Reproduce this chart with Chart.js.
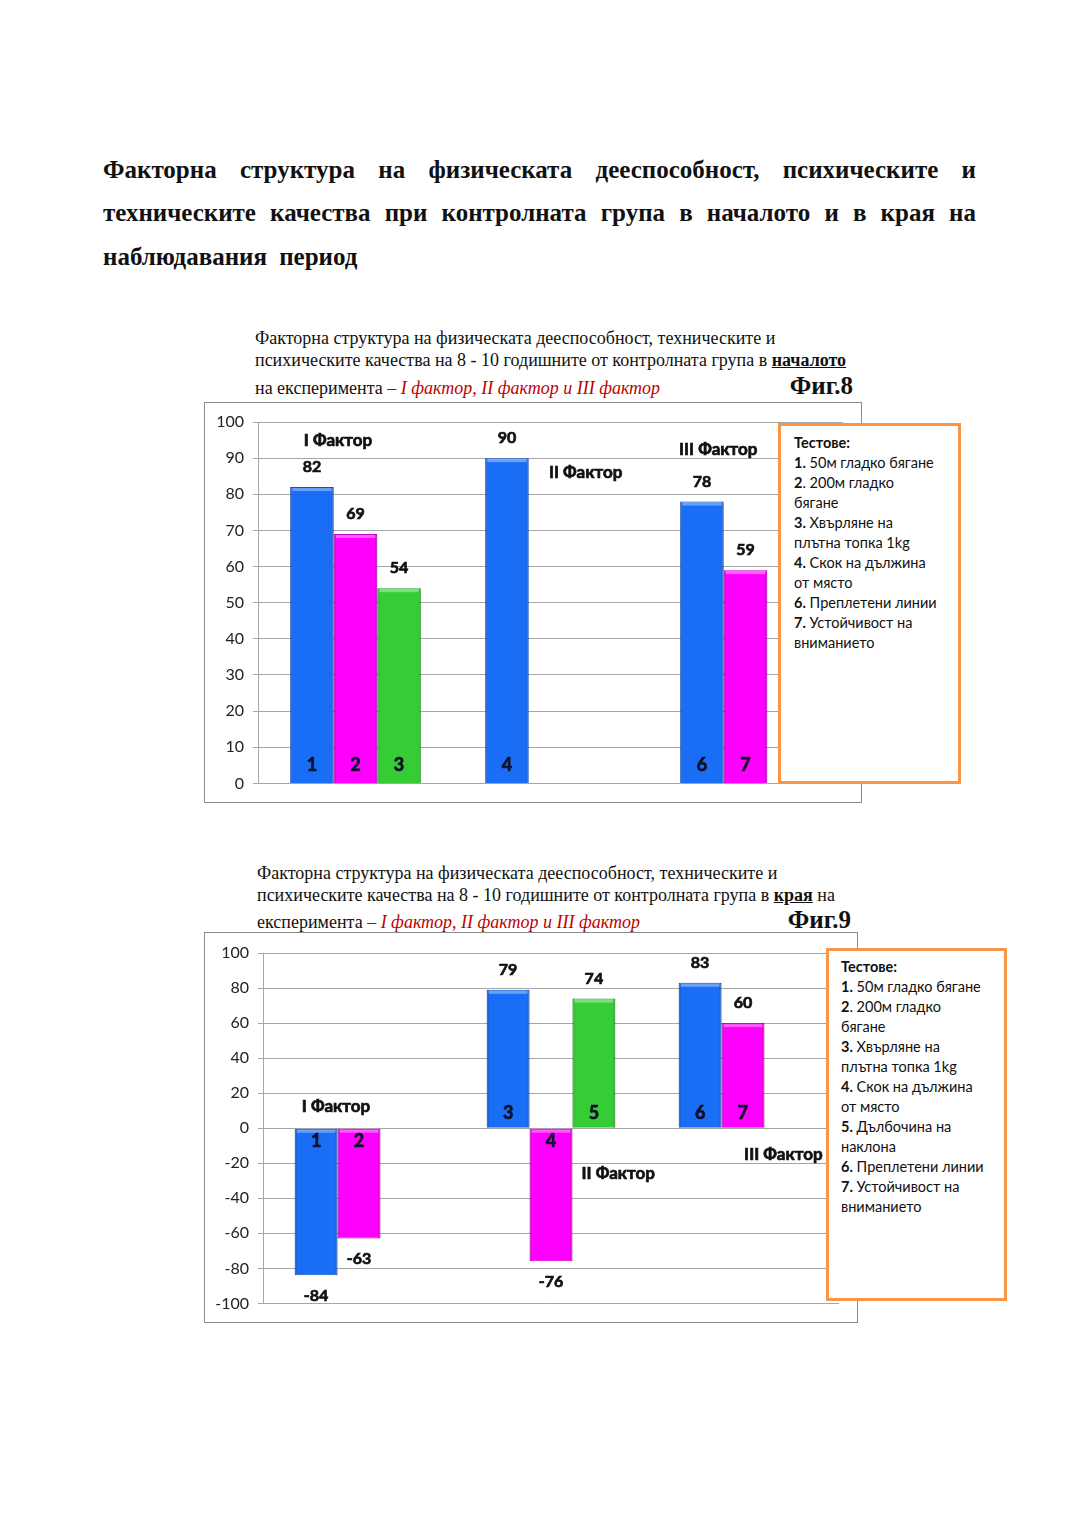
<!DOCTYPE html>
<html>
<head>
<meta charset="utf-8">
<script src="https://cdn.jsdelivr.net/npm/chart.js@4"></script>
<style>
  body { margin: 0; background: #fff; }
  #page { position: relative; width: 1080px; height: 1527px; overflow: hidden; }
  .title { position: absolute; left: 103px; width: 873px; font: bold 25px "Liberation Serif", serif; line-height: 30px; color: #111; white-space: nowrap; }
  .title.just { text-align: justify; text-align-last: justify; white-space: normal; }
  .cap { position: absolute; font: 18px "Liberation Serif", serif; line-height: 22px; color: #111; white-space: nowrap; }
  .cap b { text-decoration: underline; }
  .cap i { color: #c00000; }
  .fig { position: absolute; font: bold 25px "Liberation Serif", serif; line-height: 30px; color: #111; }
  .frame { position: absolute; box-sizing: border-box; border: 1px solid #8a8a8a; background: #fff; }
  .frame canvas { position: absolute; left: 0; top: 0; }
  .legend { position: absolute; box-sizing: border-box; border: 3px solid #f79646; background: #fff;
            font: 14.5px Lato, sans-serif; line-height: 20px; color: #111; white-space: nowrap; }
</style>
</head>
<body>
<div id="page">
  <div class="title just" style="top:155px">Факторна структура на физическата дееспособност, психическите и</div>
  <div class="title just" style="top:198px">техническите качества при контролната група в началото и в края на</div>
  <div class="title" style="top:242px;word-spacing:6px">наблюдавания период</div>

  <div class="cap" style="left:255px;top:327px">Факторна структура на физическата дееспособност, техническите и</div>
  <div class="cap" style="left:255px;top:349px">психическите качества на 8 - 10 годишните от контролната група в <b>началото</b></div>
  <div class="cap" style="left:255px;top:377px">на експеримента <i>– I фактор, II фактор и III фактор</i></div>
  <div class="fig" style="right:227px;top:371px">Фиг.8</div>

  <div class="frame" style="left:204px;top:402px;width:658px;height:401px">
    <canvas id="chart8" width="656" height="399"></canvas>
  </div>
  <div class="legend" style="left:778px;top:423px;width:183px;height:361px;padding:7px 0 0 13px">
    <b>Тестове:</b><br>
    <b>1.</b> 50м гладко бягане<br>
    <b>2</b>. 200м гладко<br>бягане<br>
    <b>3.</b> Хвърляне на<br>плътна топка 1kg<br>
    <b>4.</b> Скок на дължина<br>от място<br>
    <b>6.</b> Преплетени линии<br>
    <b>7.</b> Устойчивост на<br>вниманието
  </div>

  <div class="cap" style="left:257px;top:862px">Факторна структура на физическата дееспособност, техническите и</div>
  <div class="cap" style="left:257px;top:884px">психическите качества на 8 - 10 годишните от контролната група в <b>края</b> на</div>
  <div class="cap" style="left:257px;top:911px">експеримента <i>– I фактор, II фактор и III фактор</i></div>
  <div class="fig" style="right:229px;top:905px">Фиг.9</div>

  <div class="frame" style="left:204px;top:932px;width:654px;height:391px">
    <canvas id="chart9" width="652" height="389"></canvas>
  </div>
  <div class="legend" style="left:826px;top:948px;width:181px;height:353px;padding:6px 0 0 12px">
    <b>Тестове:</b><br>
    <b>1.</b> 50м гладко бягане<br>
    <b>2</b>. 200м гладко<br>бягане<br>
    <b>3.</b> Хвърляне на<br>плътна топка 1kg<br>
    <b>4.</b> Скок на дължина<br>от място<br>
    <b>5.</b> Дълбочина на<br>наклона<br>
    <b>6.</b> Преплетени линии<br>
    <b>7.</b> Устойчивост на<br>вниманието
  </div>
</div>

<script>
const categories = ["I Фактор", "II Фактор", "III Фактор"];

// Фиг.8 - в началото
const fig8Blue = [82, 90, 78];
const fig8Magenta = [69, null, 59];
const fig8Green = [54, null, null];
const fig8BlueTests = ["1", "4", "6"];
const fig8MagentaTests = ["2", null, "7"];
const fig8GreenTests = ["3", null, null];
const fig8Ticks = [0, 10, 20, 30, 40, 50, 60, 70, 80, 90, 100];

// Фиг.9 - в края
const fig9Blue = [-84, 79, 83];
const fig9Magenta = [-63, -76, 60];
const fig9Green = [null, 74, null];
const fig9BlueTests = ["1", "3", "6"];
const fig9MagentaTests = ["2", "4", "7"];
const fig9GreenTests = [null, "5", null];
const fig9Ticks = [-100, -80, -60, -40, -20, 0, 20, 40, 60, 80, 100];

const BLUE = "#1a6ef5";
const MAGENTA = "#ff00ff";
const GREEN = "#36cc36";

// where the factor names sit: dx in category widths from the centre, y in axis units
const fig8FactorPos = [{ dx: -0.09, y: 95 }, { dx: 0.18, y: 86 }, { dx: -0.14, y: 92.5 }];
const fig9FactorPos = [{ dx: -0.12, y: 12.5 }, { dx: 0.35, y: -26 }, { dx: 0.21, y: -15 }];

// bold text drawn with a thin stroke so it reads as heavy as the original
function heavyText(ctx, txt, x, y, color) {
  ctx.fillStyle = color;
  ctx.strokeStyle = color;
  ctx.lineWidth = 0.7;
  ctx.fillText(txt, x, y);
  ctx.strokeText(txt, x, y);
}

const barLabels = {
  id: "barLabels",
  afterDatasetsDraw(chart, args, opts) {
    const ctx = chart.ctx;
    const xs = chart.scales.x;
    const ys = chart.scales.y;
    const y0 = ys.getPixelForValue(0);
    ctx.save();
    ctx.textAlign = "center";
    ctx.textBaseline = "middle";
    chart.data.datasets.forEach((ds, di) => {
      const meta = chart.getDatasetMeta(di);
      meta.data.forEach((bar, i) => {
        const v = ds.data[i];
        if (v === null) return;
        ctx.font = "bold 16px Lato, sans-serif";
        heavyText(ctx, String(v), bar.x, v >= 0 ? bar.y - 20 : bar.y + 20, "#111");
        if (ds.tests[i]) {
          ctx.font = "bold 18px Lato, sans-serif";
          heavyText(ctx, ds.tests[i], bar.x, v >= 0 ? y0 - opts.numUp : y0 + opts.numDown, "#10102a");
        }
      });
    });
    // factor names
    const cw = xs.getPixelForValue(1) - xs.getPixelForValue(0);
    ctx.font = "bold 17px Lato, sans-serif";
    opts.factors.forEach((f, i) => {
      heavyText(ctx, categories[i], xs.getPixelForValue(i) + f.dx * cw, ys.getPixelForValue(f.y), "#111");
    });
    ctx.restore();
  }
};

// light strip on top of each bar like the bevel in the original
const barBevel = {
  id: "barBevel",
  afterDatasetsDraw(chart) {
    const ctx = chart.ctx;
    ctx.save();
    chart.data.datasets.forEach((ds, di) => {
      chart.getDatasetMeta(di).data.forEach((bar, i) => {
        if (ds.data[i] === null) return;
        const w = bar.width;
        const top = Math.min(bar.y, bar.base);
        const bottom = Math.max(bar.y, bar.base);
        const left = bar.x - w / 2;
        ctx.fillStyle = "rgba(255,255,255,0.35)";
        ctx.fillRect(left + 2, top + 1, w - 4, 3);
        ctx.fillStyle = "rgba(0,0,0,0.12)";
        ctx.fillRect(left, top, 2, bottom - top);
        ctx.fillRect(left + w - 2, top, 2, bottom - top);
      });
    });
    ctx.restore();
  }
};

function makeChart(id, sets, ticks, yWidth, padding, labelOpts) {
  const colors = [BLUE, MAGENTA, GREEN];
  const borders = ["#0f55c8", "#c800c8", "#22a022"];
  return new Chart(document.getElementById(id), {
    type: "bar",
    data: {
      labels: categories,
      datasets: sets.map((s, k) => ({
        data: s.values,
        tests: s.tests,
        backgroundColor: colors[k],
        borderColor: borders[k],
        borderWidth: 1,
        barPercentage: 1.0,
        categoryPercentage: 0.67
      }))
    },
    options: {
      responsive: false,
      animation: false,
      layout: { padding: padding },
      plugins: {
        legend: { display: false },
        tooltip: { enabled: false },
        barLabels: labelOpts
      },
      scales: {
        x: { display: false },
        y: {
          min: ticks[0],
          max: ticks[ticks.length - 1],
          afterBuildTicks: (scale) => { scale.ticks = ticks.map(v => ({ value: v })); },
          afterFit: (scale) => { scale.width = yWidth; },
          border: { display: true, color: "#a6a6a6", width: 1 },
          grid: { color: "#a6a6a6", lineWidth: 1, tickLength: 5 },
          ticks: { color: "#222", padding: 9, font: { family: "Lato, sans-serif", size: 16 } }
        }
      }
    },
    plugins: [barBevel, barLabels]
  });
}

makeChart("chart8",
  [
    { values: fig8Blue, tests: fig8BlueTests },
    { values: fig8Magenta, tests: fig8MagentaTests },
    { values: fig8Green, tests: fig8GreenTests }
  ],
  fig8Ticks, 53, { top: 19, right: 18, bottom: 18, left: 0 },
  { numUp: 18, numDown: 14, factors: fig8FactorPos });

makeChart("chart9",
  [
    { values: fig9Blue, tests: fig9BlueTests },
    { values: fig9Magenta, tests: fig9MagentaTests },
    { values: fig9Green, tests: fig9GreenTests }
  ],
  fig9Ticks, 58, { top: 20, right: 18, bottom: 16, left: 0 },
  { numUp: 15, numDown: 13, factors: fig9FactorPos });
</script>
</body>
</html>
